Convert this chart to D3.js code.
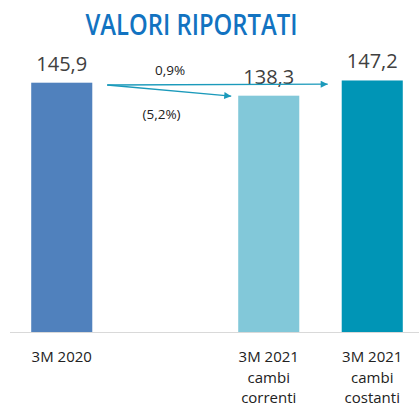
<!DOCTYPE html>
<html><head><meta charset="utf-8">
<script src="https://cdn.jsdelivr.net/npm/d3@7"></script>
<style>html,body{margin:0;padding:0;background:#fff;}</style>
</head><body>
<script>
const categories = ["3M 2020", "", "3M 2021 cambi correnti", "3M 2021 cambi costanti"];
const labelLines = [["3M 2020"], [], ["3M 2021", "cambi", "correnti"], ["3M 2021", "cambi", "costanti"]];
const values = [145.9, null, 138.3, 147.2];
const valueLabels = ["145,9", "", "138,3", "147,2"];
const colors = ["#5081bd", null, "#82c8d9", "#0095b6"];
const changeLabels = ["0,9%", "(5,2%)"];
const title = "VALORI RIPORTATI";

const W = 419, H = 406;
const svg = d3.select("body").append("svg").attr("width", W).attr("height", H);

const x = d3.scaleBand().domain(categories).range([10, 424]).paddingInner(0.41).paddingOuter(0.205);
const y = d3.scaleLinear().domain([0, 145.9]).range([332, 82.7]);

svg.append("text").attr("x", 191.5).attr("y", 35).attr("text-anchor", "middle")
  .attr("font-family", "Open Sans").attr("font-weight", 600).attr("font-size", 28)
  .attr("textLength", 212).attr("lengthAdjust", "spacingAndGlyphs")
  .attr("fill", "#1273c1").text(title);

// axis line
svg.append("line").attr("x1", 10).attr("x2", W).attr("y1", y(0) + 0.5).attr("y2", y(0) + 0.5)
  .attr("stroke", "#d9d9d9").attr("stroke-width", 1);

const data = categories.map((c, i) => ({c, v: values[i], lab: valueLabels[i], col: colors[i], lines: labelLines[i]}));
const bars = data.filter(d => d.v != null);

svg.selectAll("rect.bar").data(bars).join("rect").attr("class", "bar")
  .attr("x", d => x(d.c)).attr("width", x.bandwidth())
  .attr("y", d => y(d.v)).attr("height", d => y(0) - y(d.v)).attr("fill", d => d.col);

svg.selectAll("text.val").data(bars).join("text").attr("class", "val")
  .attr("x", d => x(d.c) + x.bandwidth() / 2).attr("y", d => y(d.v) - 12)
  .attr("text-anchor", "middle").attr("font-family", "Open Sans").attr("font-size", 20)
  .attr("fill", "#404040").text(d => d.lab);

const cat = svg.selectAll("text.cat").data(data).join("text").attr("class", "cat")
  .attr("text-anchor", "middle").attr("font-family", "Open Sans").attr("font-size", 15).attr("fill", "#222");
cat.each(function(d) {
  d3.select(this).selectAll("tspan").data(d.lines).join("tspan")
    .attr("x", x(d.c) + x.bandwidth() / 2).attr("y", (t, j) => 362 + j * 20.5).text(t => t);
});

// arrows
const ac = "#1b9abb";
svg.append("defs").append("marker").attr("id", "ah").attr("viewBox", "0 0 10 10")
  .attr("refX", 10).attr("refY", 5).attr("markerWidth", 9).attr("markerHeight", 7)
  .attr("markerUnits", "userSpaceOnUse").attr("orient", "auto")
  .append("path").attr("d", "M0,0L10,5L0,10Z").attr("fill", ac);

const x0 = x(categories[0]) + x.bandwidth() + 15;
const y0 = y(values[0]) + 2.3;
svg.append("line").attr("x1", x0).attr("y1", y0)
  .attr("x2", x(categories[3]) - 14).attr("y2", y0 - 0.8)
  .attr("stroke", ac).attr("stroke-width", 1.3).attr("marker-end", "url(#ah)");
svg.append("line").attr("x1", x0).attr("y1", y0)
  .attr("x2", x(categories[2]) - 7).attr("y2", y(values[2]) + 0.5)
  .attr("stroke", ac).attr("stroke-width", 1.3).attr("marker-end", "url(#ah)");

svg.append("text").attr("x", 170).attr("y", 75).attr("text-anchor", "middle")
  .attr("font-family", "Open Sans").attr("font-size", 13.5).attr("fill", "#222").text(changeLabels[0]);
svg.append("text").attr("x", 161.5).attr("y", 119).attr("text-anchor", "middle")
  .attr("font-family", "Open Sans").attr("font-size", 13.5).attr("fill", "#222").text(changeLabels[1]);
</script>
</body></html>
